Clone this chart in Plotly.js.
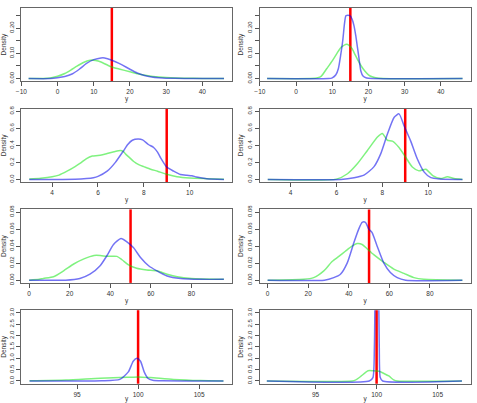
<!DOCTYPE html>
<html>
<head>
<meta charset="utf-8">
<script src="https://cdn.plot.ly/plotly-3.0.1.min.js"></script>
<style>html,body{margin:0;padding:0;background:#fff;}#chart{width:477px;height:403px;}</style>
</head>
<body>
<div id="chart"></div>
<script>
// ---- data ----
const trueValues = [15, 15, 9, 9, 50, 50, 100, 100];

const green1x = [-8,-4,-2,0,2,4,5,7,9,10.5,12,14,15,17,20,22,25,28,30,35,40,46];
const green1y = [0,0.0005,0.002,0.009,0.02,0.037,0.046,0.063,0.073,0.072,0.066,0.052,0.046,0.038,0.027,0.019,0.011,0.006,0.004,0.0015,0.0008,0];
const blue1x = [-8,-2,0,2,4,6,8,10,12,13,15,17,19,20,22,24,26,28,30,35,40,46];
const blue1y = [0,0,0.003,0.008,0.018,0.037,0.06,0.075,0.082,0.082,0.073,0.06,0.045,0.037,0.022,0.012,0.006,0.003,0.0015,0.0005,0.0002,0];

const green2x = [-8,4,6,7,8.5,10,11.3,12.5,14,15.4,16.3,17.2,18,19,20,21,22,24,46];
const green2y = [0,0,0.003,0.01,0.04,0.07,0.10,0.125,0.136,0.12,0.095,0.07,0.05,0.03,0.015,0.007,0.003,0,0];
const blue2x = [-8,9,10,11,11.7,12.3,12.9,13.4,13.8,14.9,15.5,16.0,16.5,16.9,17.3,17.9,18.5,19.5,21,46];
const blue2y = [0,0,0.003,0.015,0.04,0.09,0.15,0.22,0.25,0.25,0.235,0.21,0.17,0.13,0.09,0.03,0.01,0.002,0,0];

const green3x = [3.0,3.5,4.0,4.3,4.65,5.0,5.23,5.5,5.75,6.0,6.2,6.4,6.7,6.98,7.1,7.2,7.4,7.56,7.8,8.0,8.3,8.6,9.0,9.45,10.0,10.75,11.5];
const green3y = [0.003,0.012,0.03,0.05,0.096,0.15,0.19,0.245,0.275,0.28,0.29,0.305,0.325,0.34,0.33,0.30,0.25,0.21,0.17,0.15,0.12,0.096,0.06,0.03,0.015,0.008,0.002];
const blue3x = [3.0,5.0,5.5,5.8,6.0,6.4,6.76,7.1,7.3,7.5,7.75,7.95,8.2,8.43,8.6,8.72,9.0,9.3,9.6,9.88,10.1,10.3,10.75,11.5];
const blue3y = [0,0.002,0.01,0.02,0.035,0.096,0.2,0.33,0.41,0.46,0.475,0.465,0.41,0.375,0.32,0.26,0.145,0.097,0.058,0.048,0.043,0.028,0.007,0];

const green4x = [3.0,6.0,6.48,6.9,7.35,7.8,8.0,8.22,8.44,8.73,9.02,9.31,9.6,9.9,10.2,10.55,10.84,11.13,11.5];
const green4y = [0,0.003,0.066,0.18,0.34,0.5,0.54,0.46,0.45,0.375,0.26,0.145,0.1,0.12,0.045,0.01,0.03,0.01,0];
const blue4x = [3.0,6.2,6.77,7.2,7.64,7.93,8.22,8.52,8.73,8.95,9.24,9.53,9.83,10.12,10.5,11.5];
const blue4y = [0,0,0.02,0.05,0.15,0.3,0.53,0.73,0.77,0.63,0.45,0.24,0.085,0.02,0.005,0];

const green5x = [0,5,7,12,17,22,27,32,35,38.4,43.3,45.8,49,53,58,63,68,73,80,96];
const green5y = [0,0.001,0.002,0.004,0.011,0.019,0.025,0.029,0.029,0.028,0.028,0.024,0.018,0.014,0.012,0.011,0.007,0.004,0.002,0.001];
const blue5x = [0,18,25,30,35,38.4,41.6,45.3,48.2,51.5,54.8,58.9,63,68,74.6,85,96];
const blue5y = [0,0,0.002,0.007,0.017,0.029,0.042,0.049,0.045,0.038,0.027,0.017,0.011,0.005,0.002,0.001,0.001];

const green6x = [0,17.8,22.7,27.7,31.8,35.1,38.3,41.6,44.1,46.6,49,52.3,57.3,62.2,67.2,72.1,77,96];
const green6y = [0,0.001,0.003,0.011,0.022,0.028,0.034,0.04,0.043,0.042,0.037,0.03,0.021,0.013,0.008,0.003,0.001,0];
const blue6x = [0,28,32.6,35.9,39.2,42.5,44.9,46.6,48.2,49.9,51.5,54,57.3,60.5,63.9,68,96];
const blue6y = [0,0,0.003,0.007,0.02,0.044,0.06,0.068,0.068,0.06,0.056,0.04,0.02,0.009,0.003,0,0];

const green7x = [91.1,94.1,96.9,99.1,100,101,102.9,105.1,107];
const green7y = [0.005,0.04,0.12,0.16,0.18,0.15,0.07,0.02,0.003];
const blue7x = [91.1,97,98.5,99.2,99.6,99.9,100.2,100.5,100.8,101.2,102,107];
const blue7y = [0,0.005,0.07,0.4,0.87,1.0,0.87,0.4,0.12,0.03,0.005,0];

const green8x = [91,98,98.3,98.7,99.3,99.7,100.2,100.6,101,101.4,101.7,107];
const green8y = [0,0,0.05,0.2,0.45,0.45,0.43,0.33,0.22,0.05,0,0];
const blue8x = [91,99.4,99.7,99.82,99.9,100.05,100.15,100.22,100.3,100.5,107];
const blue8y = [0,0,0.15,1.5,4.5,5.5,4.5,1.5,0.15,0,0];

const greenX = [green1x,green2x,green3x,green4x,green5x,green6x,green7x,green8x];
const greenY = [green1y,green2y,green3y,green4y,green5y,green6y,green7y,green8y];
const blueX = [blue1x,blue2x,blue3x,blue4x,blue5x,blue6x,blue7x,blue8x];
const blueY = [blue1y,blue2y,blue3y,blue4y,blue5y,blue6y,blue7y,blue8y];

// tick values / labels per row
const xTickVals = [[-10,0,10,20,30,40],[4,6,8,10],[0,20,40,60,80],[95,100,105]];
const yTickVals = [[0,0.05,0.1,0.15,0.2,0.25],[0,0.2,0.4,0.6,0.8],[0,0.02,0.04,0.06,0.08],[0,0.5,1,1.5,2,2.5,3]];
const yTickText = [["0.00","","0.10","","0.20",""],["0.0","0.2","0.4","0.6","0.8"],["0.00","0.02","0.04","0.06","0.08"],["0.0","0.5","1.0","1.5","2.0","2.5","3.0"]];

// ---- layout geometry ----
const W = 477, H = 403;
const xRanges = [[-10.1,48.2],[2.64,11.85],[-4,100],[90.4,107.7]];
const yRanges = [[-0.0108,0.2808],[-0.032,0.832],[-0.0032,0.0832],[-0.12,3.12]];
const colPx = [[21,232],[259.5,470.5]];
const rowBottom = [81.3,182.1,282.9,383.7];
const boxH = 73.5;

const font = {family:"Liberation Sans, Arial, sans-serif", size:6.5, color:"#333"};
const yfont = {family:"Liberation Sans, Arial, sans-serif", size:6, color:"#333"};
const traces = [];
const layout = {
  width: W, height: H,
  margin: {l:0,r:0,t:0,b:0},
  paper_bgcolor: "#ffffff",
  plot_bgcolor: "rgba(0,0,0,0)",
  showlegend: false,
  font: font,
  shapes: []
};

for (let i = 0; i < 8; i++) {
  const row = Math.floor(i/2), col = i % 2;
  const n = i + 1;
  const xa = "x" + (n===1?"":n), ya = "y" + (n===1?"":n);
  traces.push({x: greenX[i], y: greenY[i], xaxis: xa, yaxis: ya, type:"scatter", mode:"lines",
    line:{color:"rgba(0,230,0,0.5)", width:1.5, shape:"spline", smoothing:0.6}, hoverinfo:"skip"});
  traces.push({x: blueX[i], y: blueY[i], xaxis: xa, yaxis: ya, type:"scatter", mode:"lines",
    line:{color:"rgba(0,0,235,0.55)", width:1.5, shape:"spline", smoothing:0.6}, hoverinfo:"skip"});
  const axX = {
    domain: [colPx[col][0]/W, colPx[col][1]/W],
    range: xRanges[row], anchor: ya,
    tickmode: "array", tickvals: xTickVals[row],
    ticks: "outside", ticklen: 4, tickwidth: 1, tickcolor: "#555",
    showline: true, linecolor: "#666", linewidth: 1, mirror: true,
    showgrid: false, zeroline: false,
    tickfont: font,
    title: {text: "y", font: font, standoff: 2}
  };
  const axY = {
    domain: [1 - rowBottom[row]/H, 1 - (rowBottom[row]-boxH)/H],
    range: yRanges[row], anchor: xa,
    tickmode: "array", tickvals: yTickVals[row], ticktext: yTickText[row],
    tickangle: -90,
    ticks: "outside", ticklen: 4, tickwidth: 1, tickcolor: "#555",
    showline: true, linecolor: "#666", linewidth: 1, mirror: true,
    showgrid: false, zeroline: false,
    tickfont: yfont,
    title: {text: "Density", font: font, standoff: 2}
  };
  layout["xaxis" + (n===1?"":n)] = axX;
  layout["yaxis" + (n===1?"":n)] = axY;
  layout.shapes.push({type:"line", xref: xa, yref: ya + " domain", x0: trueValues[i], x1: trueValues[i], y0: 0, y1: 1,
    line:{color:"#ff0000", width:2.5}, layer:"below"});
}

Plotly.newPlot("chart", traces, layout, {staticPlot:true, displayModeBar:false});
</script>
</body>
</html>
